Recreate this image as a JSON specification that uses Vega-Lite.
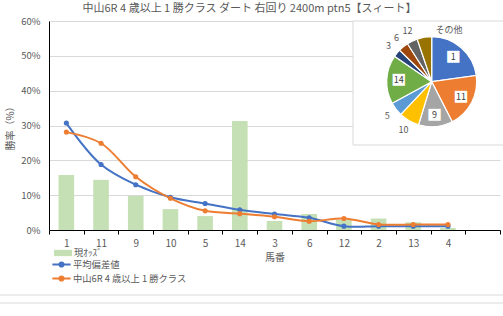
{
  "$schema": "https://vega.github.io/schema/vega-lite/v6.json",
  "autosize": {"type": "none"},
  "padding": {"left": 49, "top": 21, "right": 3, "bottom": 86},
  "width": 451,
  "height": 209,
  "background": "white",
  "title": {"text": "中山6R 4 歳以上 1 勝クラス ダート 右回り 2400m ptn5【スィート】", "fontSize": 11, "fontWeight": "normal", "color": "#595959", "dx": -25, "dy": 3, "offset": 5, "anchor": "middle"},
  "config": {
    "view": {"stroke": null},
    "font": "Noto Sans CJK JP",
    "axis": {"labelFont": "Noto Sans CJK JP", "titleFont": "Noto Sans CJK JP"},
    "legend": {"labelFont": "Noto Sans CJK JP"}
  },
  "datasets": {
    "main": [
      {"i": 1, "horse": "1", "odds": 0.158, "avg": 0.307, "race": 0.281},
      {"i": 2, "horse": "11", "odds": 0.144, "avg": 0.188, "race": 0.249},
      {"i": 3, "horse": "9", "odds": 0.098, "avg": 0.130, "race": 0.153},
      {"i": 4, "horse": "10", "odds": 0.060, "avg": 0.094, "race": 0.091},
      {"i": 5, "horse": "5", "odds": 0.040, "avg": 0.076, "race": 0.055},
      {"i": 6, "horse": "14", "odds": 0.313, "avg": 0.058, "race": 0.047},
      {"i": 7, "horse": "3", "odds": 0.026, "avg": 0.046, "race": 0.038},
      {"i": 8, "horse": "6", "odds": 0.046, "avg": 0.035, "race": 0.025},
      {"i": 9, "horse": "12", "odds": 0.029, "avg": 0.011, "race": 0.033},
      {"i": 10, "horse": "2", "odds": 0.033, "avg": 0.011, "race": 0.016},
      {"i": 11, "horse": "13", "odds": 0.022, "avg": 0.011, "race": 0.016},
      {"i": 12, "horse": "4", "odds": 0.006, "avg": 0.011, "race": 0.016}
    ],
    "pie": [
      {"k": 1, "horse": "1", "pct": 22.7},
      {"k": 2, "horse": "11", "pct": 19.6},
      {"k": 3, "horse": "9", "pct": 12.2},
      {"k": 4, "horse": "10", "pct": 7.3},
      {"k": 5, "horse": "5", "pct": 5.0},
      {"k": 6, "horse": "14", "pct": 17.4},
      {"k": 7, "horse": "3", "pct": 2.8},
      {"k": 8, "horse": "6", "pct": 3.6},
      {"k": 9, "horse": "12", "pct": 3.8},
      {"k": 10, "horse": "その他", "pct": 5.2}
    ]
  },
  "layer": [
    {
      "data": {"name": "main"},
      "mark": {"type": "bar", "width": {"band": 0.45}},
      "encoding": {
        "x": {"field": "horse", "type": "ordinal",
          "scale": {"type": "band", "domain": ["1","11","9","10","5","14","3","6","12","2","13","4","_"], "paddingInner": 0, "paddingOuter": 0},
          "axis": {"title": "馬番", "labelExpr": "datum.value == '_' ? '' : datum.value", "labelAngle": 0, "tickBand": "extent", "ticks": true, "tickColor": "#000000", "tickSize": 4, "domainColor": "#000000", "domainWidth": 1, "labelColor": "#595959", "labelFontSize": 10, "labelPadding": 4, "titleColor": "#595959", "titleFontSize": 10, "titleFontWeight": "normal", "titlePadding": 4, "grid": false}},
        "y": {"field": "odds", "type": "quantitative",
          "scale": {"domain": [0, 0.6], "nice": false},
          "axis": {"title": "勝率（%）", "format": ".0%", "values": [0, 0.1, 0.2, 0.3, 0.4, 0.5, 0.6], "tickCount": 7, "labelOverlap": false, "grid": true, "gridColor": "#D9D9D9", "ticks": false, "domainColor": "#000000", "labelColor": "#595959", "labelFontSize": 9.5, "labelPadding": 9, "titleColor": "#595959", "titleFontSize": 10, "titleFontWeight": "normal", "titlePadding": 5}},
        "fill": {"datum": "現ｵｯｽﾞ", "type": "nominal", "scale": {"domain": ["現ｵｯｽﾞ"], "range": ["#C5E0B4"]},
          "legend": {"title": null, "orient": "none", "legendX": 5, "legendY": 223, "symbolType": "M-1,-0.35H1V0.35H-1Z", "symbolSize": 324, "symbolStrokeWidth": 0, "labelColor": "#595959", "labelFontSize": 9.3, "labelOffset": 2}}
      }
    },
    {
      "data": {"name": "main"},
      "mark": {"type": "line", "interpolate": "catmull-rom", "strokeWidth": 2},
      "encoding": {
        "x": {"field": "horse", "type": "ordinal"},
        "y": {"field": "avg", "type": "quantitative"},
        "order": {"field": "i", "type": "quantitative"},
        "stroke": {"datum": "平均偏差値", "type": "nominal",
          "scale": {"domain": ["平均偏差値", "中山6R 4 歳以上 1 勝クラス"], "range": ["#4472C4", "#ED7D31"]},
          "legend": {"title": null, "orient": "none", "legendX": 5, "legendY": 236, "symbolType": "M-1.4,0H1.4M0.32,0A0.32,0.32 0 1 1 -0.32,0A0.32,0.32 0 1 1 0.32,0", "symbolSize": 169, "symbolStrokeWidth": 2, "labelColor": "#595959", "labelFontSize": 9.3, "labelOffset": 4, "rowPadding": 0}}
      }
    },
    {
      "data": {"name": "main"},
      "mark": {"type": "line", "interpolate": "catmull-rom", "strokeWidth": 2},
      "encoding": {
        "x": {"field": "horse", "type": "ordinal"},
        "y": {"field": "race", "type": "quantitative"},
        "order": {"field": "i", "type": "quantitative"},
        "stroke": {"datum": "中山6R 4 歳以上 1 勝クラス", "type": "nominal"}
      }
    },
    {
      "data": {"name": "main"},
      "mark": {"type": "point", "filled": true, "color": "#4472C4", "size": 26, "opacity": 1},
      "encoding": {
        "x": {"field": "horse", "type": "ordinal"},
        "y": {"field": "avg", "type": "quantitative"}
      }
    },
    {
      "data": {"name": "main"},
      "mark": {"type": "point", "filled": true, "color": "#ED7D31", "size": 26, "opacity": 1},
      "encoding": {
        "x": {"field": "horse", "type": "ordinal"},
        "y": {"field": "race", "type": "quantitative"}
      }
    },
    {
      "data": {"values": [{}]},
      "mark": {"type": "rect", "fill": "white", "stroke": "#D9D9D9", "strokeWidth": 1},
      "encoding": {"x": {"value": 304}, "x2": {"value": 460}, "y": {"value": 0}, "y2": {"value": 124}}
    },
    {
      "data": {"values": [{}]},
      "mark": {"type": "rule", "color": "#D9D9D9", "strokeWidth": 1},
      "encoding": {"x": {"value": -49}, "x2": {"value": 454}, "y": {"value": 274}}
    },
    {
      "data": {"values": [{}]},
      "mark": {"type": "rule", "color": "#D9D9D9", "strokeWidth": 1},
      "encoding": {"x": {"value": -49}, "x2": {"value": 454}, "y": {"value": 282}}
    },
    {
      "data": {"name": "pie"},
      "mark": {"type": "arc", "outerRadius": 45, "stroke": "white", "strokeWidth": 1.2},
      "encoding": {
        "x": {"value": 382.7},
        "y": {"value": 60.7},
        "theta": {"field": "pct", "type": "quantitative", "stack": true},
        "order": {"field": "k", "type": "quantitative"},
        "color": {"field": "horse", "type": "nominal",
          "scale": {"domain": ["1","11","9","10","5","14","3","6","12","その他"], "range": ["#4472C4","#ED7D31","#A5A5A5","#FFC000","#5B9BD5","#70AD47","#264478","#9E480E","#636363","#997300"]},
          "legend": null}
      }
    },
    {
      "data": {"name": "pie"},
      "mark": {"type": "text", "radius": 33, "font": "DejaVu Sans Mono", "fontSize": 10, "color": "white", "baseline": "middle", "align": "center"},
      "encoding": {
        "x": {"value": 382.7},
        "y": {"value": 60.7},
        "theta": {"field": "pct", "type": "quantitative", "stack": true},
        "order": {"field": "k", "type": "quantitative"},
        "text": {"condition": {"test": "datum.pct > 10", "value": "██"}, "value": ""}
      }
    },
    {
      "data": {"name": "pie"},
      "mark": {"type": "text", "radius": 33, "fontSize": 9, "color": "#404040", "baseline": "middle", "align": "center"},
      "encoding": {
        "x": {"value": 382.7},
        "y": {"value": 60.7},
        "theta": {"field": "pct", "type": "quantitative", "stack": true},
        "order": {"field": "k", "type": "quantitative"},
        "text": {"condition": {"test": "datum.pct > 10", "field": "horse"}, "value": ""}
      }
    },
    {
      "data": {"name": "pie"},
      "mark": {"type": "text", "radius": 56, "fontSize": 9, "color": "#595959", "baseline": "middle", "align": "center"},
      "encoding": {
        "x": {"value": 382.7},
        "y": {"value": 60.7},
        "theta": {"field": "pct", "type": "quantitative", "stack": true},
        "order": {"field": "k", "type": "quantitative"},
        "text": {"condition": {"test": "datum.pct <= 10 && datum.horse != 'その他'", "field": "horse"}, "value": ""}
      }
    },
    {
      "data": {"name": "pie"},
      "mark": {"type": "text", "radius": 56, "fontSize": 9, "color": "#595959", "baseline": "middle", "align": "left", "dx": 13, "dy": 4},
      "encoding": {
        "x": {"value": 382.7},
        "y": {"value": 60.7},
        "theta": {"field": "pct", "type": "quantitative", "stack": true},
        "order": {"field": "k", "type": "quantitative"},
        "text": {"condition": {"test": "datum.horse == 'その他'", "field": "horse"}, "value": ""}
      }
    }
  ],
  "resolve": {"scale": {"theta": "shared"}}
}
